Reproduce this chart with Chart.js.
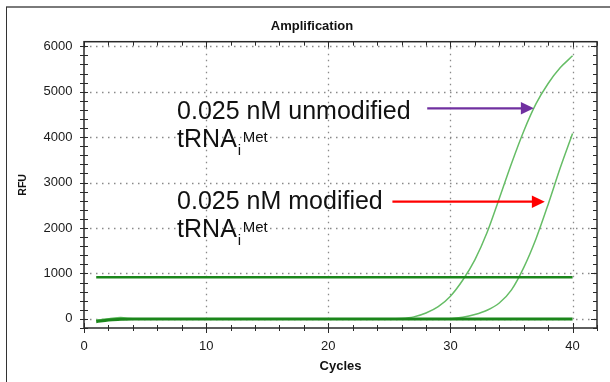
<!DOCTYPE html>
<html>
<head>
<meta charset="utf-8">
<title>Amplification</title>
<script src="https://cdn.jsdelivr.net/npm/chart.js@4.4.1/dist/chart.umd.min.js"></script>
<style>
    html, body { margin:0; padding:0; background:#fff; }
    #wrap { width:610px; height:382px; }
</style>
</head>
<body>
<div id="wrap"><canvas id="ampChart" width="610" height="382"></canvas></div>
<script>
const cycles = [1,2,3,4,5,6,7,8,9,10,11,12,13,14,15,16,17,18,19,20,
                21,22,23,24,25,26,27,28,29,30,31,32,33,34,35,36,37,38,39,40];
const unmodified = [-30,0,30,5,0,0,0,0,0,0,0,0,0,0,0,0,0,0,0,0,
                    0,0,0,0,0,10,45,130,270,500,850,1300,1900,2650,3420,4130,4730,5180,5530,5790];
const modified = [-30,0,10,0,0,0,0,0,0,0,0,0,0,0,0,0,0,0,0,0,
                  0,0,0,0,0,0,0,0,0,5,35,95,190,350,640,1130,1760,2520,3330,4080];
const baseline = [-60,-25,-10,0,0,0,0,0,0,0,0,0,0,0,0,0,0,0,0,0,
                  0,0,0,0,0,0,0,0,0,0,0,0,0,0,0,0,0,0,0,0];
const threshold = 915;
const xTicks = [0,10,20,30,40];
const yTicks = [0,1000,2000,3000,4000,5000,6000];

// text notes and arrows, placed in data units
const notes = [
    {text:"0.025 nM unmodified", x:7.62, y:4410},
    {text:"tRNA", sub:"i", sup:"Met", x:7.62, y:3783},
    {text:"0.025 nM modified", x:7.62, y:2408},
    {text:"tRNA", sub:"i", sup:"Met", x:7.62, y:1802}
];
const arrows = [
    {from:[28.1, 4634], to:[36.83, 4634], color:"#7030a0"},
    {from:[25.25, 2579], to:[37.73, 2579], color:"#ff0000"}
];

const FONT = "'Liberation Sans', Arial, sans-serif";
const darkGreen = "#1b861b";
const lightGreen = "#66bd66";

function toPoints(values){
    return cycles.map((c, i) => ({x:c, y:values[i]}));
}

const framePlugin = {
    id:"framePlugin",
    beforeDraw(chart){
        const ctx = chart.ctx;
        ctx.save();
        ctx.fillStyle = "#fff";
        ctx.fillRect(0, 0, chart.width, chart.height);
        ctx.strokeStyle = "#7a7a7a";
        ctx.lineWidth = 2;
        ctx.beginPath();
        ctx.moveTo(6, 7);
        ctx.lineTo(chart.width, 7);
        ctx.stroke();
        ctx.strokeStyle = "#333";
        ctx.lineWidth = 1;
        ctx.beginPath();
        ctx.moveTo(6.5, 7);
        ctx.lineTo(6.5, chart.height);
        ctx.stroke();
        ctx.restore();
    },
    beforeDatasetsDraw(chart){
        const {ctx, chartArea:a, scales:{x, y}} = chart;
        ctx.save();
        ctx.strokeStyle = "#8a8a8a";
        ctx.lineWidth = 1.3;
        ctx.setLineDash([1.5, 4.5]);
        ctx.beginPath();
        xTicks.slice(1).forEach(v => {
            const px = Math.round(x.getPixelForValue(v)) + 0.5;
            ctx.moveTo(px, a.top);
            ctx.lineTo(px, a.bottom);
        });
        yTicks.forEach(v => {
            const py = Math.round(y.getPixelForValue(v)) + 0.5;
            ctx.moveTo(a.left, py);
            ctx.lineTo(a.right, py);
        });
        ctx.stroke();
        ctx.restore();
    },
    afterDatasetsDraw(chart){
        const {ctx, chartArea:a, scales:{x, y}} = chart;
        ctx.save();
        // box
        ctx.strokeStyle = "#2a2a2a";
        ctx.lineWidth = 1.5;
        ctx.strokeRect(a.left, a.top, a.right - a.left, a.bottom - a.top);
        // ticks
        ctx.lineWidth = 1;
        ctx.beginPath();
        for(let v = 0; v <= x.max; v += 2){
            const px = Math.round(x.getPixelForValue(v)) + 0.5;
            const major = v % 10 === 0;
            const len = major ? 5 : 3;
            ctx.moveTo(px, a.bottom - len);
            ctx.lineTo(px, a.bottom + len);
            ctx.moveTo(px, a.top);
            ctx.lineTo(px, a.top + (major ? 6 : 4));
        }
        for(let v = y.min; v <= y.max; v += 200){
            const py = Math.round(y.getPixelForValue(v)) + 0.5;
            const major = v % 1000 === 0;
            ctx.moveTo(a.left - 4, py);
            ctx.lineTo(a.left + 4, py);
            ctx.moveTo(a.right, py);
            ctx.lineTo(a.right - (major ? 6 : 4), py);
        }
        ctx.stroke();

        // arrows
        arrows.forEach(ar => {
            const x0 = x.getPixelForValue(ar.from[0]);
            const y0 = y.getPixelForValue(ar.from[1]);
            const x1 = x.getPixelForValue(ar.to[0]);
            const y1 = y.getPixelForValue(ar.to[1]);
            ctx.strokeStyle = ar.color;
            ctx.fillStyle = ar.color;
            ctx.lineWidth = 2.3;
            ctx.beginPath();
            ctx.moveTo(x0, y0);
            ctx.lineTo(x1 - 12, y1);
            ctx.stroke();
            ctx.beginPath();
            ctx.moveTo(x1, y1);
            ctx.lineTo(x1 - 13, y1 - 6.2);
            ctx.lineTo(x1 - 13, y1 + 6.2);
            ctx.closePath();
            ctx.fill();
        });

        // notes
        ctx.fillStyle = "#111";
        ctx.textBaseline = "alphabetic";
        ctx.textAlign = "left";
        notes.forEach(n => {
            const px = x.getPixelForValue(n.x);
            const py = y.getPixelForValue(n.y);
            ctx.font = "25px " + FONT;
            ctx.fillText(n.text, px, py);
            if(n.sub || n.sup){
                const w = ctx.measureText(n.text).width;
                ctx.font = "15px " + FONT;
                ctx.fillText(n.sub, px + w + 1, py + 8.3);
                const sw = ctx.measureText(n.sub).width;
                ctx.fillText(n.sup, px + w + sw + 2.5, py - 5);
            }
        });
        ctx.restore();
    }
};

const ctx = document.getElementById("ampChart").getContext("2d");
new Chart(ctx, {
    type:"line",
    data:{
        datasets:[
            {
                label:"Baseline",
                data:toPoints(baseline),
                borderColor:darkGreen,
                borderWidth:3,
                pointRadius:0,
                cubicInterpolationMode:"monotone",
                order:0
            },
            {
                label:"Threshold",
                data:[{x:cycles[0], y:threshold}, {x:cycles[cycles.length - 1], y:threshold}],
                borderColor:darkGreen,
                borderWidth:2.5,
                pointRadius:0,
                order:1
            },
            {
                label:"0.025 nM unmodified tRNAi Met",
                data:toPoints(unmodified),
                borderColor:lightGreen,
                borderWidth:1.5,
                pointRadius:0,
                cubicInterpolationMode:"monotone",
                order:2
            },
            {
                label:"0.025 nM modified tRNAi Met",
                data:toPoints(modified),
                borderColor:lightGreen,
                borderWidth:1.5,
                pointRadius:0,
                cubicInterpolationMode:"monotone",
                order:3
            }
        ]
    },
    options:{
        responsive:false,
        animation:false,
        devicePixelRatio:1,
        layout:{ padding:{left:27, right:13, top:0, bottom:0} },
        font:{ family:FONT },
        plugins:{
            legend:{ display:false },
            tooltip:{ enabled:false },
            title:{
                display:true,
                text:"Amplification",
                color:"#111",
                font:{ family:FONT, size:13, weight:"bold" },
                padding:{ top:18.4, bottom:7.7 }
            }
        },
        scales:{
            x:{
                type:"linear",
                min:0,
                max:42,
                afterBuildTicks:(s) => { s.ticks = xTicks.map(v => ({value:v})); },
                afterFit:(s) => { s.height = 54; },
                grid:{ display:false, drawTicks:false },
                border:{ display:false },
                ticks:{ padding:10.4, color:"#1a1a1a", font:{ family:FONT, size:13 }, callback:(v) => String(v) },
                title:{
                    display:true,
                    text:"Cycles",
                    color:"#111",
                    font:{ family:FONT, size:13, weight:"bold" },
                    padding:{ top:0, bottom:8.2 }
                }
            },
            y:{
                type:"linear",
                min:-200,
                max:6100,
                afterBuildTicks:(s) => { s.ticks = yTicks.map(v => ({value:v})); },
                afterFit:(s) => { s.width = 57; },
                grid:{ display:false, drawTicks:false },
                border:{ display:false },
                ticks:{ padding:11.5, color:"#1a1a1a", font:{ family:FONT, size:13 }, callback:(v) => String(v) },
                title:{
                    display:true,
                    text:"RFU",
                    color:"#111",
                    font:{ family:FONT, size:10.5, weight:"bold" },
                    padding:{ top:-9.8, bottom:0 }
                }
            }
        }
    },
    plugins:[framePlugin]
});
</script>
</body>
</html>
